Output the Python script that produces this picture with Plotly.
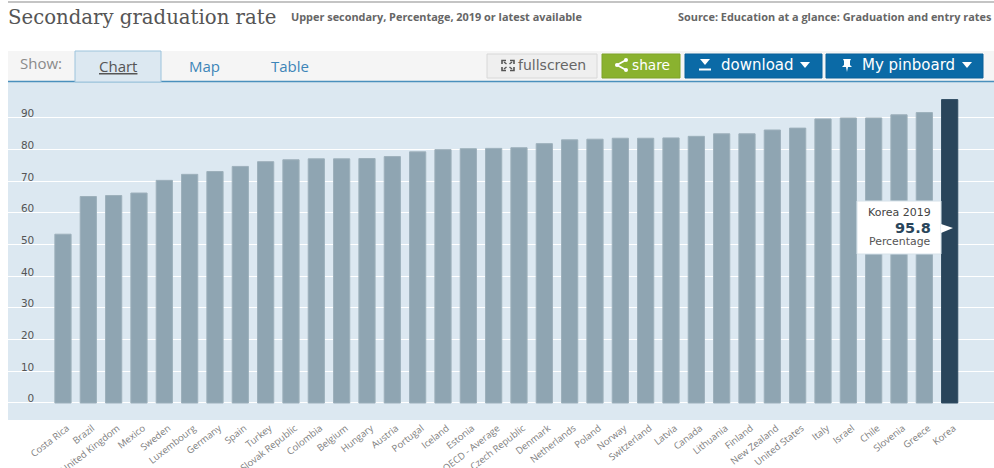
import plotly.graph_objects as go

W, H = 994, 468

countries = ["Costa Rica", "Brazil", "United Kingdom", "Mexico", "Sweden", "Luxembourg", "Germany", "Spain",
             "Turkey", "Slovak Republic", "Colombia", "Belgium", "Hungary", "Austria", "Portugal", "Iceland",
             "Estonia", "OECD - Average", "Czech Republic", "Denmark", "Netherlands", "Poland", "Norway",
             "Switzerland", "Latvia", "Canada", "Lithuania", "Finland", "New Zealand", "United States", "Italy",
             "Israel", "Chile", "Slovenia", "Greece", "Korea"]
values = [53.3, 65.2, 65.5, 66.3, 70.3, 72.2, 73.1, 74.7, 76.2, 76.8, 77.1, 77.1, 77.2, 77.8, 79.3, 80.0,
          80.3, 80.4, 80.6, 81.9, 83.1, 83.3, 83.6, 83.6, 83.7, 84.2, 85.0, 85.0, 86.2, 86.8, 89.7, 90.0,
          90.0, 91.0, 91.7, 95.8]
y_ticks = [0, 10, 20, 30, 40, 50, 60, 70, 80, 90]
highlight = "Korea"

BAR = "#8fa5b2"
BAR_HI = "#29455b"
BG = "#dce8f1"
BLUE = "#0b6aa6"
GREEN = "#8ab22f"


def px(x):
    return x / W


def py(y):
    return 1 - y / H


shapes = []
annots = []


def rect(x0, y0, x1, y1, fill, line=None, lw=1):
    shapes.append(dict(type="rect", xref="paper", yref="paper", x0=px(x0), x1=px(x1), y0=py(y0), y1=py(y1),
                       fillcolor=fill, line=dict(color=line or fill, width=lw if line else 0), layer="above"))


def poly(pts, fill=None, line=None, lw=1, close=True):
    d = "M " + " L ".join(f"{px(a):.5f},{py(b):.5f}" for a, b in pts) + (" Z" if close else "")
    shapes.append(dict(type="path", xref="paper", yref="paper", path=d, fillcolor=fill or "rgba(0,0,0,0)",
                       line=dict(color=line or "rgba(0,0,0,0)", width=lw), layer="above"))


def text(x, y, s, size, color, family="Open Sans", anchor="left"):
    annots.append(dict(xref="paper", yref="paper", x=px(x), y=py(y), text=s, showarrow=False, xanchor=anchor,
                       yanchor="middle", font=dict(size=size, color=color, family=family),
                       borderpad=0, borderwidth=0))


# header
shapes.append(dict(type="line", xref="paper", yref="paper", x0=px(8), x1=1, y0=py(2), y1=py(2),
                   line=dict(color="#c4c4c4", width=2)))
text(8, 17.5, "Secondary graduation rate", 19.7, "#555555", "DejaVu Serif")
text(291, 16.5, "<b>Upper secondary, Percentage, 2019 or latest available</b>", 10.9, "#666666")
text(678, 16.5, "<b>Source: Education at a glance: Graduation and entry rates</b>", 10.9, "#666666")

# toolbar
rect(8, 51, W, 81, "#f5f5f5")
shapes.append(dict(type="line", xref="paper", yref="paper", x0=px(8), x1=1, y0=py(81.5), y1=py(81.5),
                   line=dict(color="#4a90bd", width=1.5), layer="above"))
rect(75, 51, 161, 82, BG, "#9cc3dc", 1)
text(20, 63, "Show:", 15, "#8a8a8a")
text(118, 66, "<u>Chart</u>", 15, "#555555", anchor="center")
text(204, 66, "Map", 15, "#3d85b8", anchor="center")
text(290, 66, "Table", 15, "#3d85b8", anchor="center")

# buttons
rect(487, 54, 597, 78, "#efefef", "#d8d8d8", 1)
rect(602, 54, 680, 78, GREEN, "#7fa32a", 1)
rect(685, 54, 822, 78, BLUE, "#0a6199", 1)
rect(826, 54, 983, 78, BLUE, "#0a6199", 1)
for sx, sy in [(-1, -1), (1, -1), (-1, 1), (1, 1)]:
    cx, cy = 508, 65.5
    poly([(cx + sx * 6, cy + sy * 1.5), (cx + sx * 6, cy + sy * 5), (cx + sx * 2, cy + sy * 5)], line="#555555", lw=1.6,
         close=False)
    poly([(cx + sx * 1.5, cy + sy * 1.5), (cx + sx * 4, cy + sy * 3.5)], line="#555555", lw=1.4, close=False)
text(518, 65, "fullscreen", 14, "#666666", "DejaVu Sans")
poly([(626, 60), (617, 65), (626, 70)], line="white", lw=1.8, close=False)
for c in [(626, 60), (617, 65), (626, 70)]:
    shapes.append(dict(type="circle", xref="paper", yref="paper", x0=px(c[0] - 2), x1=px(c[0] + 2),
                       y0=py(c[1] - 2), y1=py(c[1] + 2), fillcolor="white", line=dict(width=0), layer="above"))
text(632, 65, "share", 13.7, "white", "DejaVu Sans")
poly([(700, 59), (710, 59), (705, 65)], fill="white")
rect(699, 68.5, 711, 70.5, "white")
text(721, 65, "download", 15, "white", "DejaVu Sans")
poly([(800, 62), (810, 62), (805, 68)], fill="white")
poly([(843, 59), (851, 59), (850, 61), (850, 65), (852, 67), (848, 67), (847, 72), (846, 67), (842, 67), (844, 65),
      (844, 61)], fill="white")
text(862, 65, "My pinboard", 15, "white", "DejaVu Sans")
poly([(962, 62), (972, 62), (967, 68)], fill="white")

# tooltip
hi_val = values[countries.index(highlight)]
rect(857, 201, 941, 254, "white", "#d6e2ea", 1)
poly([(941, 224), (953, 228), (941, 233)], fill="white")
text(931, 212.5, f"{highlight} 2019", 11, "#444444", "DejaVu Sans", "right")
text(931, 227.5, f"<b>{hi_val}</b>", 14.5, "#29455b", "DejaVu Sans", "right")
text(931, 241.5, "Percentage", 10.9, "#555555", "DejaVu Sans", "right")

fig = go.Figure(go.Bar(
    x=countries, y=values, width=0.64,
    marker=dict(color=[BAR_HI if c == highlight else BAR for c in countries],
                line=dict(color=["#2f4c62" if c == highlight else "#9db0bb" for c in countries], width=1)),
))
fig.update_layout(
    width=W, height=H, margin=dict(l=0, r=0, t=0, b=0), paper_bgcolor="white", plot_bgcolor=BG,
    showlegend=False, shapes=shapes, annotations=annots,
    xaxis=dict(domain=[8 / W, 1], range=[-2.17, 36.75], type="category", tickangle=-38, showgrid=False,
               tickmode="array", tickvals=countries, ticktext=countries, ticklen=0, ticks="", zeroline=False,
               ticklabelshift=4,
               tickfont=dict(size=9.5, color="#7d7d7d", family="Open Sans"), automargin=False, anchor="y"),
    yaxis=dict(domain=[1 - 420 / H, 1 - 82 / H], range=[-5.37, 101.36], tickmode="array", tickvals=y_ticks,
               anchor="free", position=(42 - 8) / (W - 8), ticklabelposition="outside top", showline=False,
               ticklabelshift=3,
               ticks="", gridcolor="white", gridwidth=1, zeroline=False, automargin=False,
               tickfont=dict(size=10.5, color="#555555", family="DejaVu Sans")),
)
fig.write_html("out.html", config=dict(displayModeBar=False),
               post_script="document.body.style.margin='0';document.documentElement.style.overflow='hidden';")
